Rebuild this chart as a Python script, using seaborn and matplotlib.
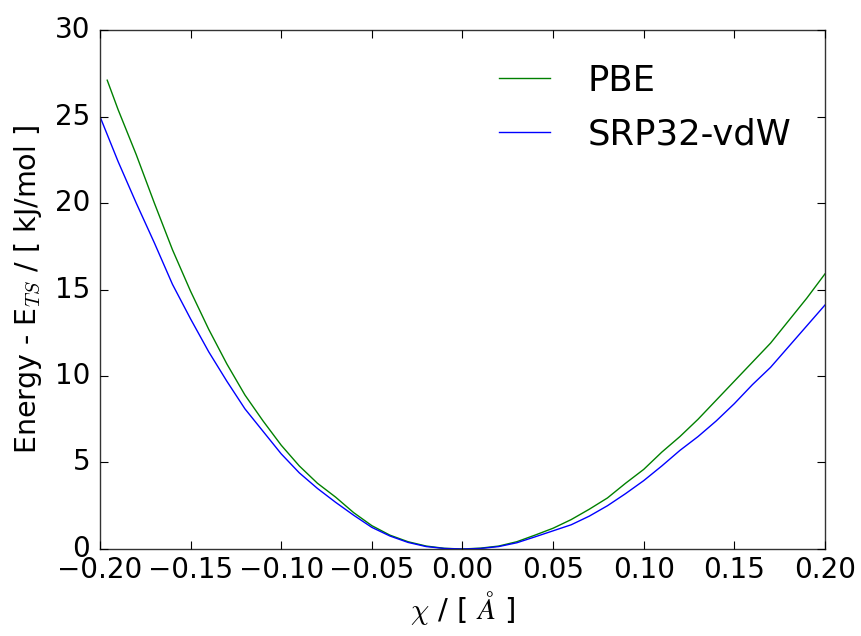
import matplotlib
matplotlib.use("Agg")
import matplotlib.pyplot as plt
import numpy as np
import pandas as pd
import seaborn as sns

# ---- data ----
chi_pbe = [-0.196, -0.19, -0.18, -0.17, -0.16, -0.15, -0.14, -0.13, -0.12, -0.11,
           -0.10, -0.09, -0.08, -0.07, -0.06, -0.05, -0.04, -0.03, -0.02, -0.01,
           0.00, 0.01, 0.02, 0.03, 0.04, 0.05, 0.06, 0.07, 0.08, 0.09,
           0.10, 0.11, 0.12, 0.13, 0.14, 0.15, 0.16, 0.17, 0.18, 0.19, 0.20]
e_pbe = [27.1, 25.4, 22.8, 20.0, 17.3, 14.9, 12.7, 10.7, 8.9, 7.4,
         6.0, 4.8, 3.8, 3.0, 2.1, 1.35, 0.8, 0.42, 0.17, 0.04,
         0.0, 0.05, 0.17, 0.42, 0.8, 1.2, 1.7, 2.3, 2.95, 3.8,
         4.6, 5.6, 6.5, 7.5, 8.6, 9.7, 10.8, 11.9, 13.2, 14.5, 15.9]

chi_srp = [-0.20, -0.19, -0.18, -0.17, -0.16, -0.15, -0.14, -0.13, -0.12, -0.11,
           -0.10, -0.09, -0.08, -0.07, -0.06, -0.05, -0.04, -0.03, -0.02, -0.01,
           0.00, 0.01, 0.02, 0.03, 0.04, 0.05, 0.06, 0.07, 0.08, 0.09,
           0.10, 0.11, 0.12, 0.13, 0.14, 0.15, 0.16, 0.17, 0.18, 0.19, 0.20]
e_srp = [25.0, 22.4, 20.0, 17.7, 15.3, 13.3, 11.4, 9.7, 8.1, 6.8,
         5.5, 4.4, 3.5, 2.7, 1.95, 1.25, 0.75, 0.38, 0.14, 0.03,
         0.0, 0.03, 0.14, 0.36, 0.7, 1.05, 1.4, 1.9, 2.5, 3.2,
         3.95, 4.8, 5.7, 6.5, 7.4, 8.4, 9.5, 10.5, 11.7, 12.9, 14.1]

labels = ["PBE", "SRP32-vdW"]
colors = {"PBE": (0.0, 0.5, 0.0), "SRP32-vdW": (0.0, 0.0, 1.0)}

x_ticks = [-0.20, -0.15, -0.10, -0.05, 0.00, 0.05, 0.10, 0.15, 0.20]
y_ticks = [0, 5, 10, 15, 20, 25, 30]

df = pd.concat([
    pd.DataFrame({"chi": chi_pbe, "E": e_pbe, "method": labels[0]}),
    pd.DataFrame({"chi": chi_srp, "E": e_srp, "method": labels[1]}),
], ignore_index=True)

plt.style.use("classic")
plt.rcParams["mathtext.fontset"] = "cm"
plt.rcParams["font.family"] = ["DejaVu Sans"]

fig = plt.figure(figsize=(8.61, 6.36), dpi=100, facecolor="white")
ax = fig.add_axes([0.1161, 0.1368, 0.842, 0.8160])

sns.lineplot(data=df, x="chi", y="E", hue="method", palette=colors,
             estimator=None, sort=False, linewidth=1.0, ax=ax, legend=True)

ax.set_xlim(-0.2, 0.2)
ax.set_ylim(0, 30)
ax.set_xticks(x_ticks)
ax.set_yticks(y_ticks)
ax.set_xticklabels([f"{t:.2f}".replace("-", "\u2212") for t in x_ticks])
ax.tick_params(axis="both", which="major", labelsize=20, direction="in",
               length=6, width=0.8, top=True, right=True)
ax.tick_params(axis="x", pad=5)
ax.tick_params(axis="y", pad=7)
for s in ax.spines.values():
    s.set_linewidth(1.0)
    s.set_color("#333333")

ax.set_xlabel(r"$\chi$ / [ $\AA$ ]", fontsize=21, labelpad=4)
ax.set_ylabel(r"Energy - E$_{TS}$ / [ kJ/mol ]", fontsize=20.5, labelpad=8)

handles, labs = ax.get_legend_handles_labels()
ax.legend(handles, labs, loc="upper right", frameon=False, fontsize=25.5,
          handlelength=1.45, handletextpad=1.05, labelspacing=0.55,
          borderaxespad=0.55, numpoints=1)
ax.set_facecolor("white")

fig.savefig("out.png", dpi=100, facecolor="white")
